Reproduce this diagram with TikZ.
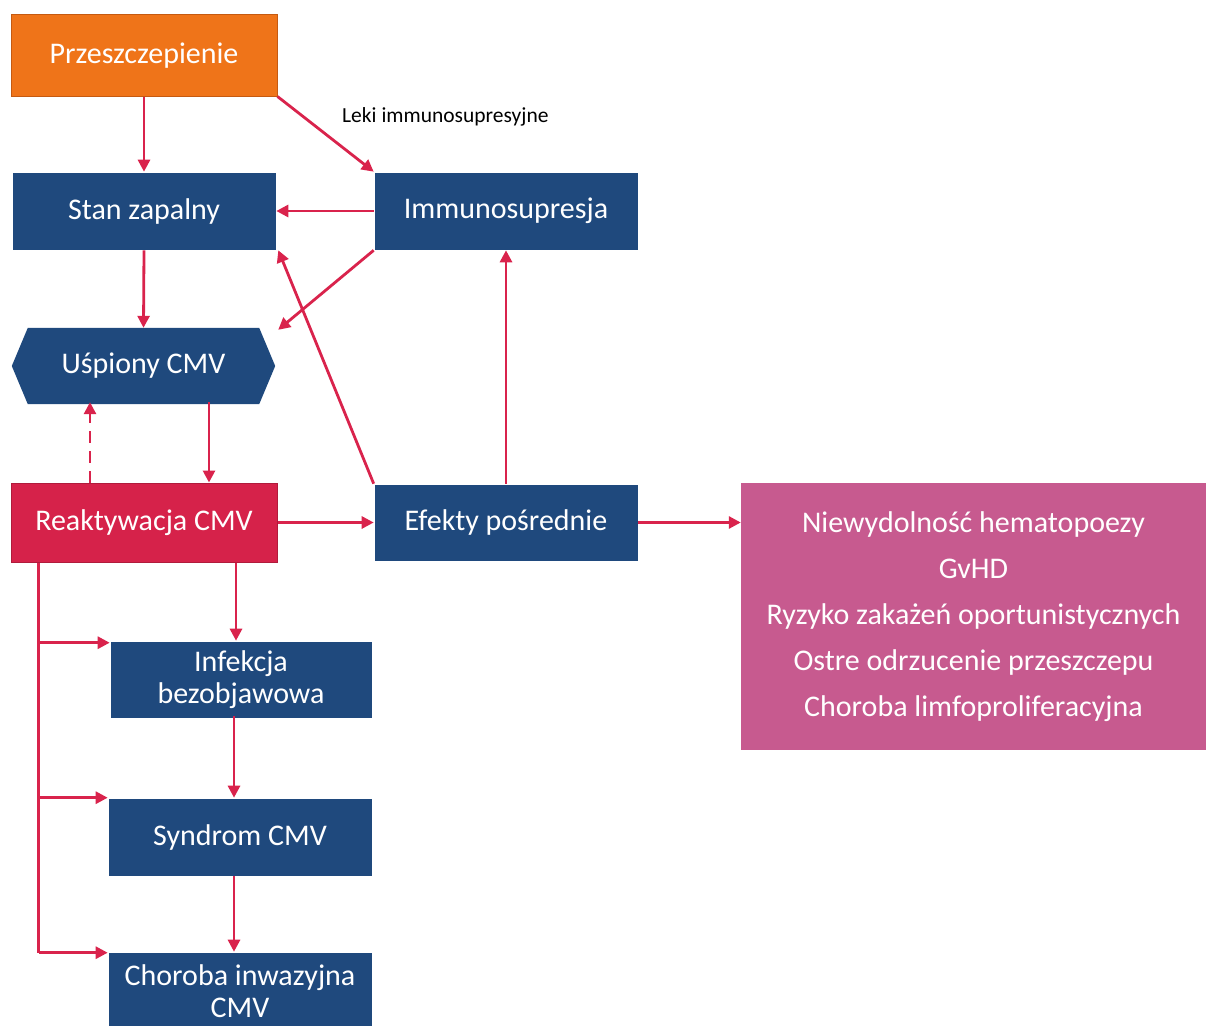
\documentclass[tikz,border=0pt]{standalone}
\usepackage{fontspec}
\setmainfont{Carlito}
\usetikzlibrary{arrows.meta,calc}
\definecolor{navy}{HTML}{1F497D}
\definecolor{orng}{HTML}{EF7419}
\definecolor{orngB}{HTML}{C55A11}
\definecolor{crim}{HTML}{D6224A}
\definecolor{crimB}{HTML}{B01B3C}
\definecolor{pinkbox}{HTML}{C75A8F}
\definecolor{arr}{HTML}{D9234C}
\tikzset{
  boxbase/.style={minimum width=264pt, minimum height=78pt, inner sep=0pt, align=center, text=white, font=\fontsize{30}{32}\selectfont},
  navybox/.style={boxbase, fill=navy, draw=white, line width=0.6pt},
  conn/.style={draw=arr, line width=2.8pt, -{Triangle[length=12pt,width=12pt]}},
}
\begin{document}
\begin{tikzpicture}[x=1pt,y=-1pt]
\useasboundingbox (0,0) rectangle (1206,1025);
\node[boxbase, fill=orng, draw=orngB, line width=1pt, minimum width=266pt, minimum height=81pt] (prz) at (144,55.5) {Przeszczepienie};
\node[navybox] (stan) at (144,211) {Stan zapalny};
\node[navybox] (imm) at (506,211) {Immunosupresja};
\node[boxbase, minimum width=263pt, minimum height=76pt] (usp) at (143.5,366) {};
\fill[navy] (usp.west) -- ([xshift=16pt]usp.north west) -- ([xshift=-16pt]usp.north east) -- (usp.east) -- ([xshift=-16pt]usp.south east) -- ([xshift=16pt]usp.south west) -- cycle;
\node[boxbase] at (usp.center) {Uśpiony CMV};
\node[boxbase, fill=crim, draw=crimB, line width=1pt, minimum width=266pt, minimum height=79pt] (reakt) at (144,522.5) {Reaktywacja CMV};
\node[navybox, minimum height=77pt] (efekty) at (506,522.5) {Efekty pośrednie};
\node[boxbase, fill=pinkbox, minimum width=465pt, minimum height=267pt, font=\fontsize{30}{46}\selectfont] (pink) at (973.5,616.5) {Niewydolność hematopoezy\\GvHD\\Ryzyko zakażeń oportunistycznych\\Ostre odrzucenie przeszczepu\\Choroba limfoproliferacyjna};
\node[navybox, minimum width=262pt, minimum height=77pt, font=\fontsize{30}{32}\selectfont] (inf) at (241,679.5) {Infekcja\\bezobjawowa};
\node[navybox, minimum height=78pt] (syn) at (240,837) {Syndrom CMV};
\node[navybox, minimum height=78pt, font=\fontsize{30}{32}\selectfont] (chor) at (240,991) {Choroba inwazyjna\\CMV};
\node[font=\fontsize{21.5}{24}\selectfont, anchor=west, inner sep=0pt] (leki) at (342,117) {Leki immunosupresyjne};
% connectors
\draw[conn] (prz.south) -- (stan.north);
\draw[conn] (prz.south east) -- (imm.north west);
\draw[conn] (imm.west) -- (stan.east);
\draw[conn] (imm.south west) -- ([xshift=3pt,yshift=-2pt]usp.north east);
\draw[conn] (stan.south) -- (usp.north);
\draw[conn] (efekty.north west) -- ([xshift=2pt]stan.south east);
\draw[conn] (efekty.north) -- (imm.south);
\draw[conn] ([xshift=65.5pt,yshift=2pt]usp.south) -- ([xshift=65pt]reakt.north);
\draw[conn, dash pattern=on 12pt off 8pt] ([xshift=-54pt]reakt.north) -- ([xshift=-53.5pt,yshift=2pt]usp.south);
\draw[conn] (reakt.east) -- (efekty.west);
\draw[conn] (efekty.east) -- (efekty.east -| pink.west);
\draw[conn] ([xshift=92pt]reakt.south) -- ([xshift=92pt]reakt.south |- inf.north);
\coordinate (s1) at ([xshift=-7pt,yshift=2pt]inf.south);
\draw[conn] (s1) -- (s1 |- syn.north);
\coordinate (s2) at ([xshift=-6pt]syn.south);
\draw[conn] (s2) -- (s2 |- chor.north);
\coordinate (b0) at ([xshift=28pt]reakt.south west);
\draw[draw=arr, line width=2.8pt] (b0) -- ([yshift=-1pt]b0 |- chor.north west);
\draw[conn] ([yshift=-2pt]b0 |- inf.north west) -- ([yshift=-2pt]inf.north west);
\draw[conn] (b0 |- syn.north west) -- (syn.north west);
\draw[conn] ([yshift=-1pt]b0 |- chor.north west) -- ([yshift=-1pt]chor.north west);
\end{tikzpicture}
\end{document}
